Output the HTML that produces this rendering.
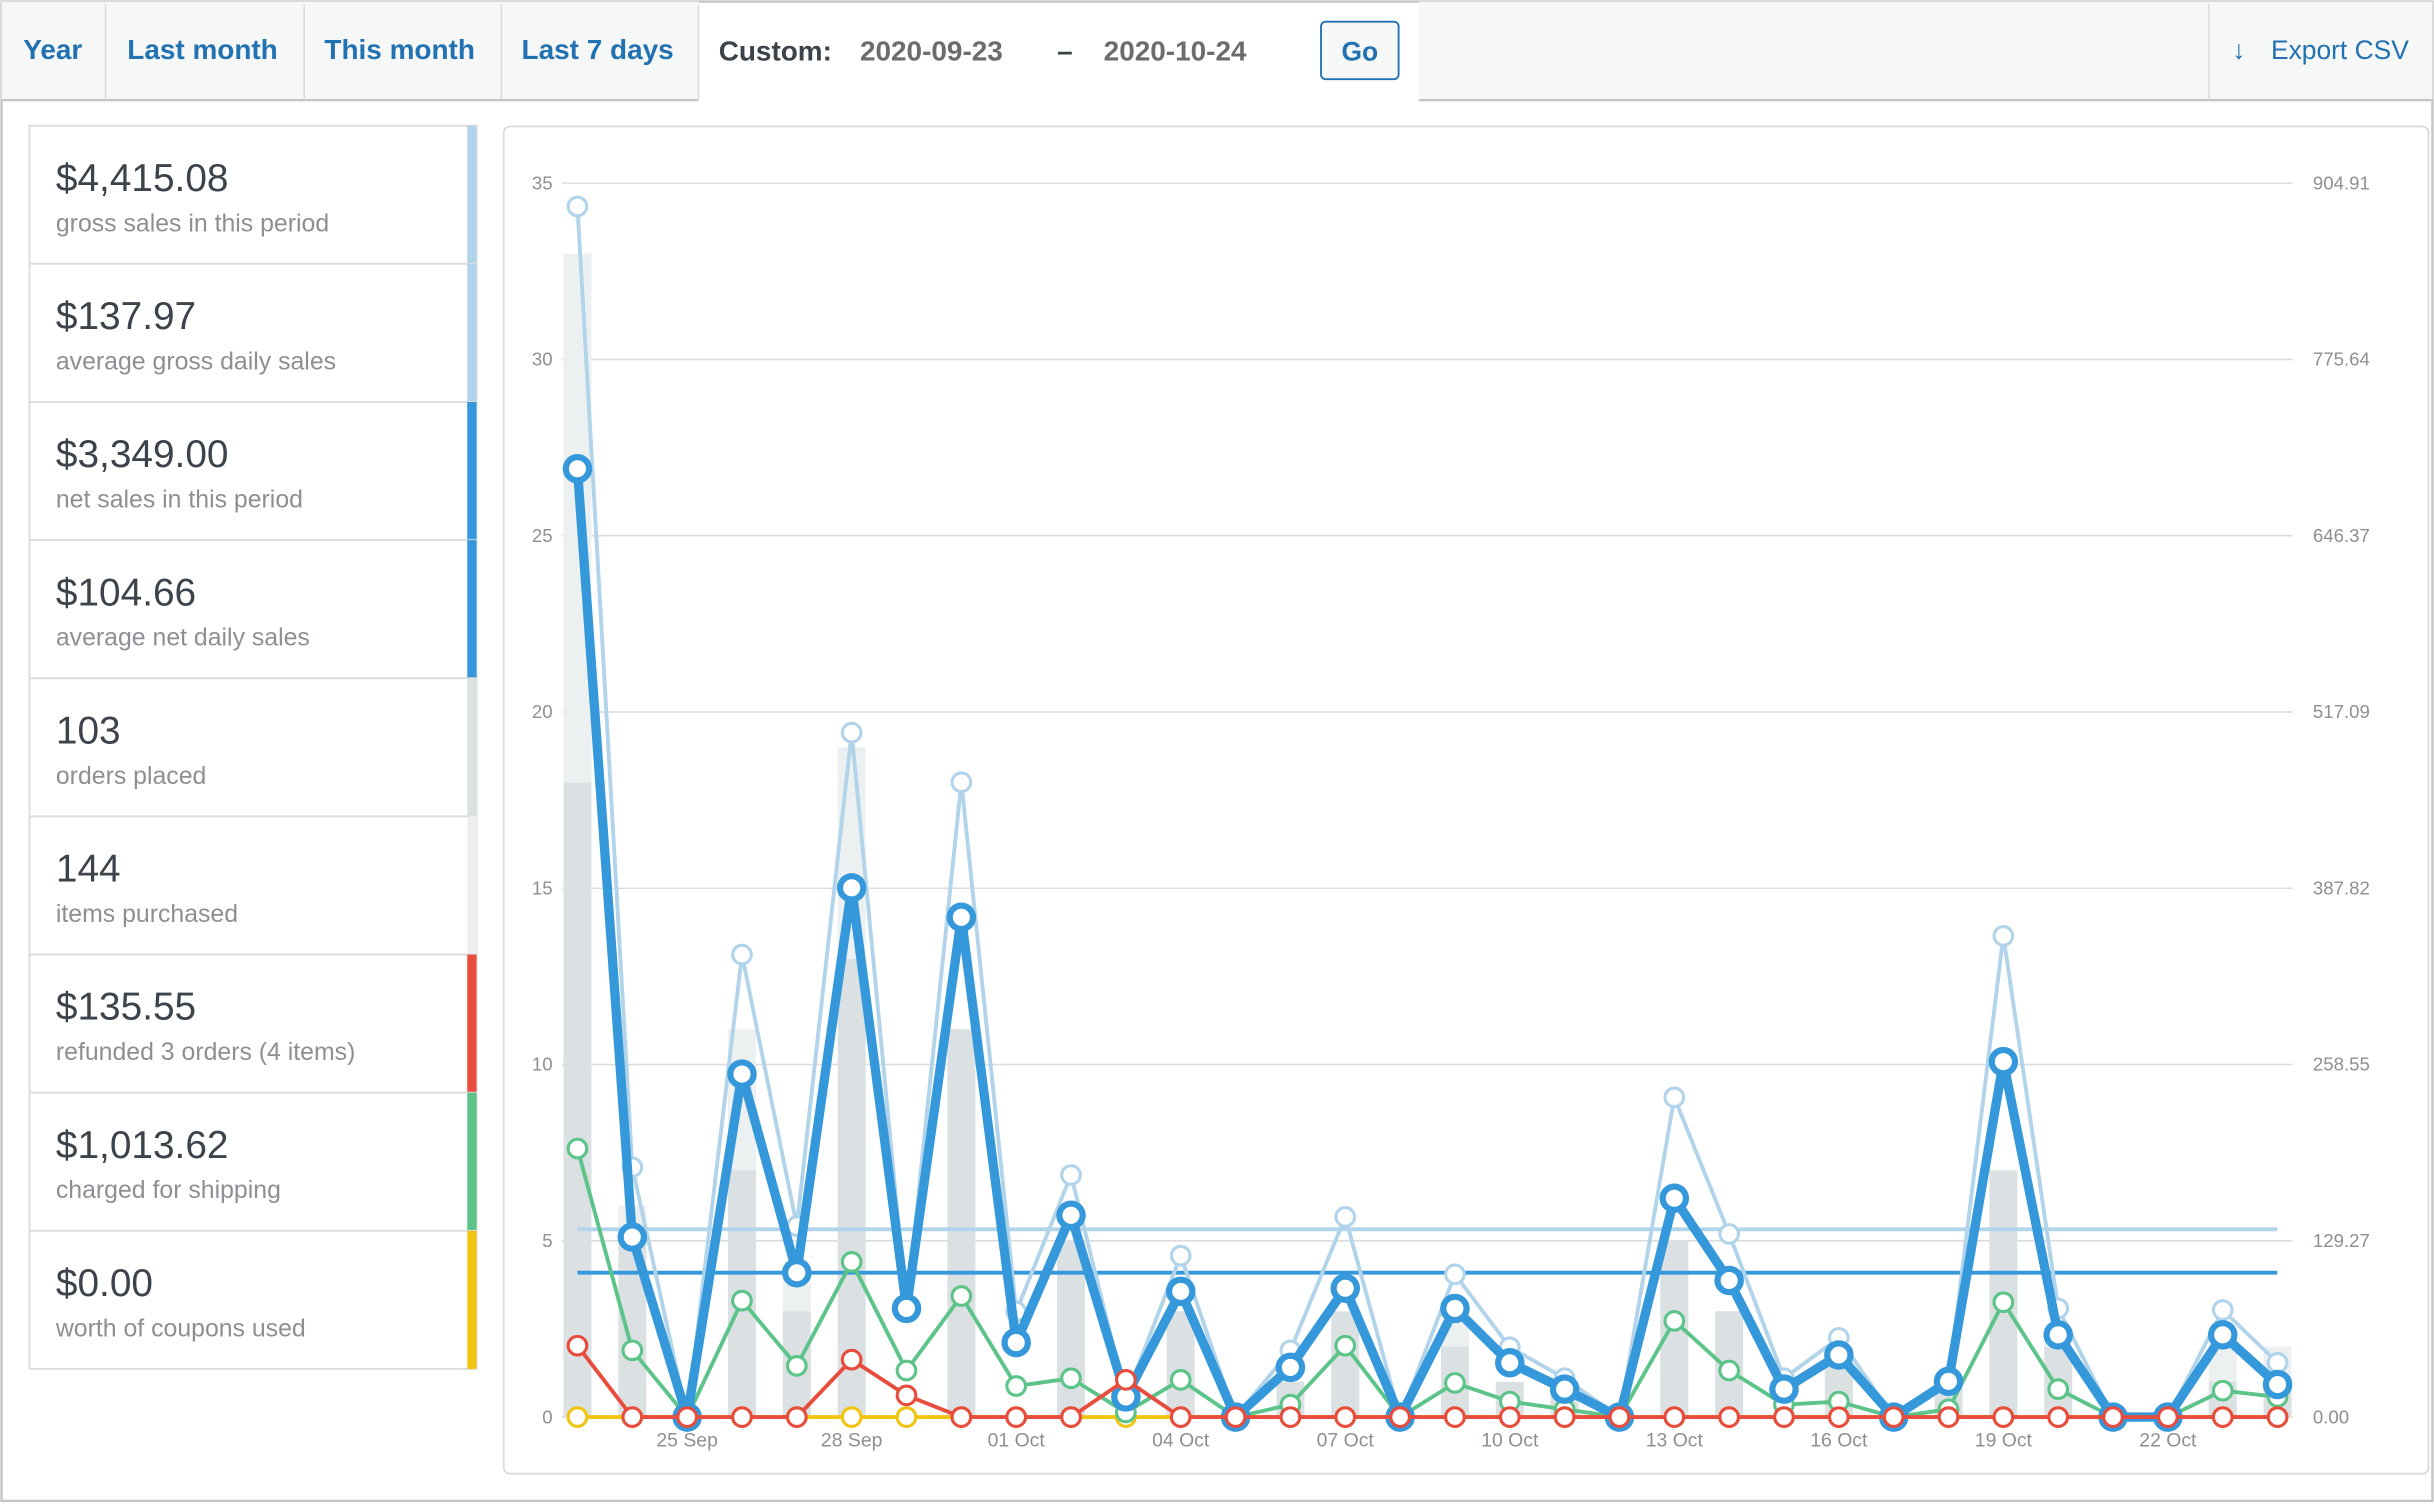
<!DOCTYPE html>
<html><head><meta charset="utf-8"><style>
html,body{margin:0;padding:0;background:#fff;}
svg{display:block;font-family:"Liberation Sans",sans-serif;}
</style></head><body>
<svg id="s" width="2434" height="1504" viewBox="0 0 1568 969" preserveAspectRatio="none" xmlns="http://www.w3.org/2000/svg">
<rect x="0" y="0" width="1568" height="969" fill="#fff"/>
<rect x="1" y="1" width="1566" height="966" fill="none" stroke="#c3c4c7" stroke-width="1.5"/>
<rect x="1" y="1" width="449" height="63" fill="#f6f7f7"/>
<rect x="914" y="1" width="653" height="63" fill="#f6f7f7"/>
<line x1="1" y1="64.5" x2="450" y2="64.5" stroke="#c3c4c7" stroke-width="1.5"/>
<line x1="914" y1="64.5" x2="1567" y2="64.5" stroke="#c3c4c7" stroke-width="1.5"/>
<line x1="68" y1="3" x2="68" y2="64" stroke="#dcdcde"/>
<line x1="196" y1="3" x2="196" y2="64" stroke="#dcdcde"/>
<line x1="323" y1="3" x2="323" y2="64" stroke="#dcdcde"/>
<line x1="450" y1="3" x2="450" y2="64" stroke="#dcdcde"/>
<line x1="1423" y1="3" x2="1423" y2="64" stroke="#dcdcde"/>
<g font-size="18" font-weight="bold" fill="#2271b1">
<text x="15" y="38">Year</text><text x="82" y="38">Last month</text><text x="209" y="38">This month</text><text x="336" y="38">Last 7 days</text>
</g>
<text x="463" y="39" font-size="18" font-weight="bold" fill="#3c434a">Custom:</text>
<text x="554" y="39" font-size="18" font-weight="bold" fill="#6c6c6c">2020-09-23</text>
<text x="681" y="39" font-size="18" font-weight="bold" fill="#3c434a">–</text>
<text x="711" y="39" font-size="18" font-weight="bold" fill="#6c6c6c">2020-10-24</text>
<rect x="851" y="14" width="50" height="37" rx="3" fill="#f6f7f7" stroke="#2271b1" stroke-width="1.2"/>
<text x="876" y="39" font-size="17" font-weight="bold" fill="#2271b1" text-anchor="middle">Go</text>
<text x="1438" y="38" font-size="17" fill="#2271b1">↓</text>
<text x="1463" y="38" font-size="17" fill="#2271b1">Export CSV</text>
<g id="legend"></g>
<rect x="324.5" y="81.5" width="1240" height="868" rx="4" fill="#fff" stroke="#dcdcde" stroke-width="1.2"/>
<g id="chart"></g>
</svg>
<script>
var NS="http://www.w3.org/2000/svg";
function el(p,t,a,txt){var e=document.createElementNS(NS,t);for(var k in a)e.setAttribute(k,a[k]);if(txt!=null)e.textContent=txt;p.appendChild(e);return e;}
var lg=document.getElementById('legend');
var items=[["$4,415.08","gross sales in this period","#b1d4ea"],["$137.97","average gross daily sales","#b1d4ea"],["$3,349.00","net sales in this period","#3498db"],["$104.66","average net daily sales","#3498db"],["103","orders placed","#dbe1e3"],["144","items purchased","#ecf0f1"],["$135.55","refunded 3 orders (4 items)","#e74c3c"],["$1,013.62","charged for shipping","#5cc488"],["$0.00","worth of coupons used","#f1c40f"]];
items.forEach(function(it,i){var y=81+i*89;
el(lg,'rect',{x:19,y:y,width:288,height:89,fill:'#fff',stroke:'#dcdcde','stroke-width':1.2});
el(lg,'rect',{x:301,y:y,width:6,height:89,fill:it[2]});
el(lg,'text',{x:36,y:y+42,'font-size':25,fill:'#3c434a'},it[0]);
el(lg,'text',{x:36,y:y+68,'font-size':16,fill:'#8c8f94'},it[1]);});
var c=document.getElementById('chart');
var X=function(i){return 372+35.33*i;}, Y=function(v){return 913-v*22.714;};
var lt=["35","30","25","20","15","10","5","0"], rt=["904.91","775.64","646.37","517.09","387.82","258.55","129.27","0.00"];
for(var i=0;i<8;i++){var y=118+i*113.57;
el(c,'line',{x1:362,y1:y,x2:1477,y2:y,stroke:'#dcdcde','stroke-width':1});
el(c,'text',{x:356,y:y+4,'font-size':12,fill:'#8c8f94','text-anchor':'end'},lt[i]);
el(c,'text',{x:1490,y:y+4,'font-size':12,fill:'#8c8f94'},rt[i]);}
var xl=[[2,"25 Sep"],[5,"28 Sep"],[8,"01 Oct"],[11,"04 Oct"],[14,"07 Oct"],[17,"10 Oct"],[20,"13 Oct"],[23,"16 Oct"],[26,"19 Oct"],[29,"22 Oct"]];
xl.forEach(function(a){el(c,'text',{x:X(a[0]),y:932,'font-size':12.5,fill:'#8c8f94','text-anchor':'middle'},a[1]);});
var items2=[33,6,0,11,4,19,0,11,0,5,0,3,0,1,3,0,3,1,1,0,5,3,0,2,0,1,7,2.5,0,0,2,2];
var orders=[18,5,0,7,3,13,0,11,0,5,0,3,0,1,3,0,2,1,1,0,5,3,0,2,0,1,7,2,0,0,1,0.8];
for(var i=0;i<32;i++){ if(items2[i]>0)el(c,'rect',{x:X(i)-9,y:Y(items2[i]),width:18,height:items2[i]*22.714,fill:'#ecf0f1'});
 if(orders[i]>0)el(c,'rect',{x:X(i)-9,y:Y(orders[i]),width:18,height:orders[i]*22.714,fill:'#dbe1e3'});}
el(c,'line',{x1:372,y1:792,x2:1467,y2:792,stroke:'#b1d4ea','stroke-width':2.5});
el(c,'line',{x1:372,y1:820,x2:1467,y2:820,stroke:'#3498db','stroke-width':2.5});
function series(ys,col,w,r,sw){var p=ys.map(function(y,i){return X(i)+','+y;}).join(' ');
el(c,'polyline',{points:p,fill:'none',stroke:col,'stroke-width':w,'stroke-linejoin':'round'});
ys.forEach(function(y,i){el(c,'circle',{cx:X(i),cy:y,r:r,fill:'#fff',stroke:col,'stroke-width':sw});});}
var yel=[];for(var i=0;i<32;i++)yel.push(913);
var gross=[133,752,913,615,790,472,843,504,845,757,900,809,913,870,784,913,821,868,888,913,707,795,888,862,913,890,603,843,913,913,844,878];
var net=[302,797,913,692,820,572,843,591,865,783,900,832,913,881,830,913,843,878,895,913,772,825,895,873,913,890,684,860,913,913,860,892];
var ship=[740,870,913,838,880,813,883,835,893,888,910,889,913,905,867,913,891,903,908,913,851,883,905,903,913,908,839,895,913,913,896,900];
var ref=[867,913,913,913,913,876,899,913,913,913,889,913,913,913,913,913,913,913,913,913,913,913,913,913,913,913,913,913,913,913,913,913];
series(yel,'#f1c40f',2.5,6,2);
series(gross,'#b1d4ea',2.5,6,2);
series(ship,'#5cc488',2.5,6,2);
series(net,'#3498db',6,7.5,4);
series(ref,'#e74c3c',2.5,6,2);
</script>
</body></html>
